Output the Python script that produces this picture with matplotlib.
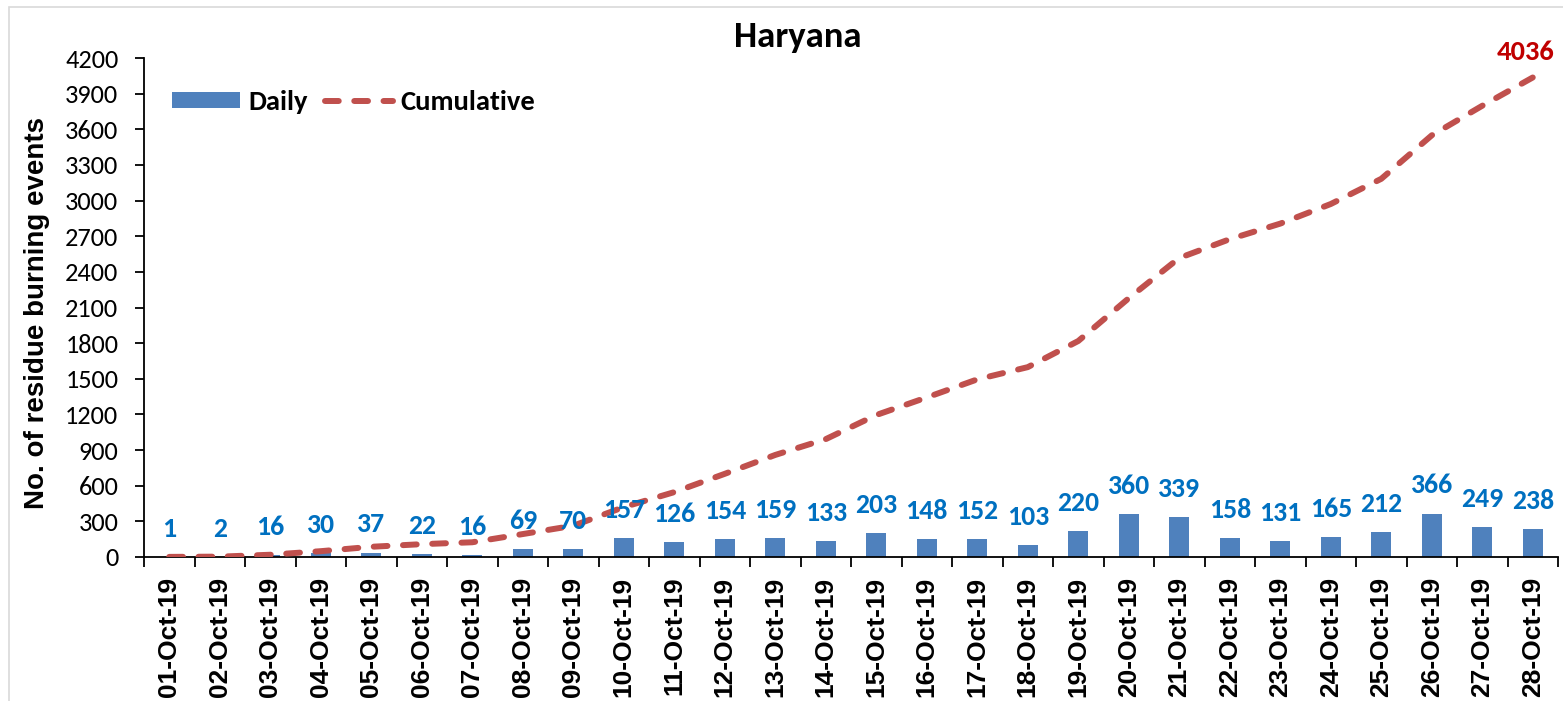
import matplotlib
matplotlib.use("Agg")
import matplotlib.pyplot as plt
from matplotlib.patches import Rectangle
import numpy as np

dates = ["01-Oct-19", "02-Oct-19", "03-Oct-19", "04-Oct-19", "05-Oct-19", "06-Oct-19",
         "07-Oct-19", "08-Oct-19", "09-Oct-19", "10-Oct-19", "11-Oct-19", "12-Oct-19",
         "13-Oct-19", "14-Oct-19", "15-Oct-19", "16-Oct-19", "17-Oct-19", "18-Oct-19",
         "19-Oct-19", "20-Oct-19", "21-Oct-19", "22-Oct-19", "23-Oct-19", "24-Oct-19",
         "25-Oct-19", "26-Oct-19", "27-Oct-19", "28-Oct-19"]
daily = [1, 2, 16, 30, 37, 22, 16, 69, 70, 157, 126, 154, 159, 133, 203, 148, 152, 103,
         220, 360, 339, 158, 131, 165, 212, 366, 249, 238]
cumulative = [1, 3, 19, 49, 86, 108, 124, 193, 263, 420, 546, 700, 859, 992, 1195, 1343,
              1495, 1598, 1818, 2178, 2517, 2675, 2806, 2971, 3183, 3549, 3798, 4036]
yticks = list(range(0, 4201, 300))

CAL = "Carlito"
ARI = "Liberation Sans"
W, H = 1563, 701
fig = plt.figure(figsize=(W / 100, H / 100), dpi=100)
fig.patches.append(Rectangle((9 / W, -0.01), 1.02, 1 - 7 / H + 0.01, transform=fig.transFigure,
                             fill=False, edgecolor="#D9D9D9", linewidth=1.2))

ax = fig.add_axes([144 / W, 1 - 557 / H, (1558 - 144) / W, (557 - 58) / H])
x = np.arange(len(dates))

bars = ax.bar(x, daily, width=0.39, color="#4F81BD", label="Daily", zorder=2)
line, = ax.plot(x, cumulative, color="#C0504D", linewidth=4.3, dashes=(2.3, 2.6),
                dash_capstyle="round", label="Cumulative", zorder=3)

for xi, v in zip(x, daily):
    ax.annotate(str(v), (xi, v), xytext=(0, 14.5), textcoords="offset points",
                ha="center", va="baseline", color="#0070C0", fontsize=20,
                fontweight="bold", family=CAL)
ax.annotate(str(cumulative[-1]), (x[-1], cumulative[-1]), xytext=(-5, 12.5),
            textcoords="offset points", ha="center", va="baseline", color="#C00000",
            fontsize=20.5, fontweight="bold", family=CAL)

ax.set_xlim(-0.5, len(dates) - 0.5)
ax.set_ylim(0, 4200)
ax.set_yticks(yticks)
ax.set_yticklabels([str(t) for t in yticks], family=CAL, fontsize=19)
ax.set_xticks(x)
ax.set_xticklabels(dates, rotation=90, family=ARI, fontweight="bold", fontsize=19)
ax.set_xticks(np.arange(-0.5, len(dates), 1), minor=True)
ax.tick_params(axis="x", which="major", length=0, pad=14)
ax.tick_params(axis="x", which="minor", length=7.5, width=1.3, direction="out")
ax.tick_params(axis="y", length=6.5, width=1.3, direction="out", pad=12)

for s in ["top", "right"]:
    ax.spines[s].set_visible(False)
ax.spines["left"].set_linewidth(1.3)
ax.spines["bottom"].set_linewidth(1.3)

fig.text(37 / W, 1 - 313 / H, "No. of residue burning events", rotation=90, family=ARI,
         fontweight="bold", fontsize=20, ha="center", va="center")
fig.text(798 / W, 1 - 47 / H, "Haryana", family=CAL, fontweight="bold", fontsize=26.5,
         ha="center", va="baseline")

leg = fig.legend([bars, line], ["Daily", "Cumulative"], loc="center left",
                 bbox_to_anchor=(172 / W, 1 - 102 / H), bbox_transform=fig.transFigure,
                 ncol=2, frameon=False, borderpad=0, borderaxespad=0,
                 prop={"family": CAL, "weight": "bold", "size": 20.5},
                 handlelength=2.39, handleheight=0.49, handletextpad=0.28, columnspacing=0.6)

fig.savefig("out.png", dpi=100)
